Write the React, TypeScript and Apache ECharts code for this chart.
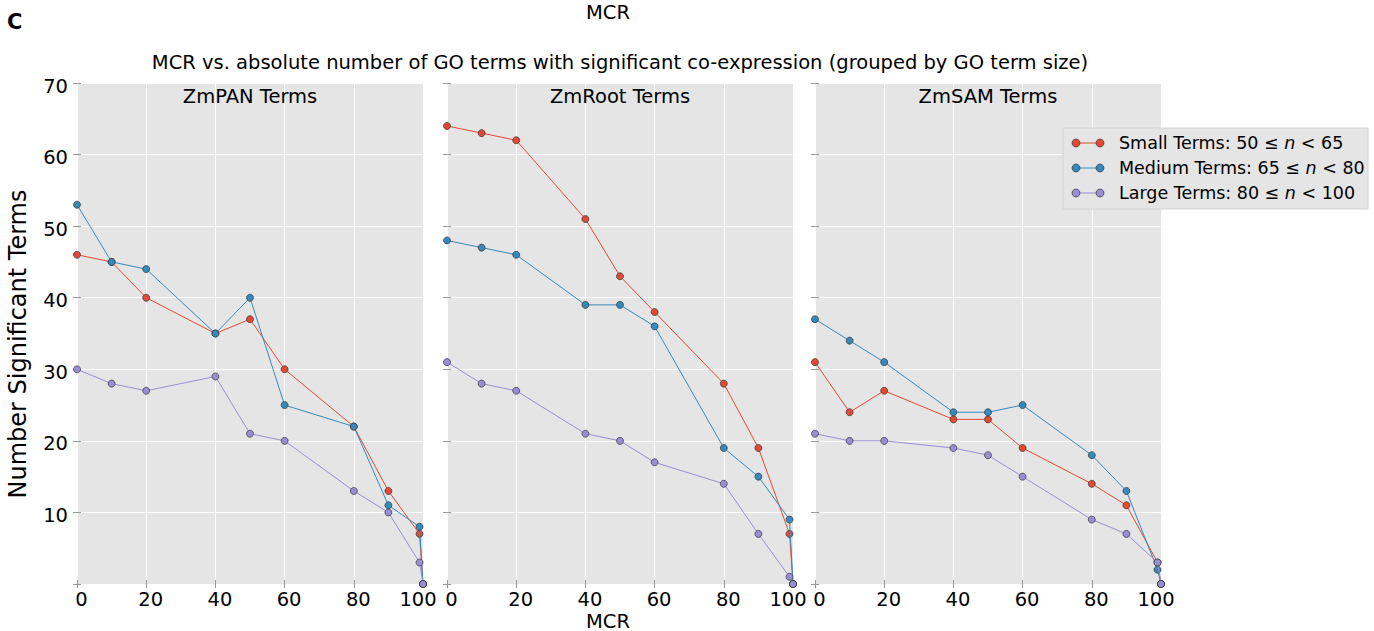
import React, { useEffect, useRef } from "react";
import * as echarts from "echarts";

// MCR thresholds shared by every panel
const mcr = [0, 10, 20, 40, 50, 60, 80, 90, 99, 100];

const panels = ["ZmPAN Terms", "ZmRoot Terms", "ZmSAM Terms"];

// Number of significant GO terms per panel, by term size group
const panSmall = [46, 45, 40, 35, 37, 30, 22, 13, 7, 0];
const panMedium = [53, 45, 44, 35, 40, 25, 22, 11, 8, 0];
const panLarge = [30, 28, 27, 29, 21, 20, 13, 10, 3, 0];

const rootSmall = [64, 63, 62, 51, 43, 38, 28, 19, 7, 0];
const rootMedium = [48, 47, 46, 39, 39, 36, 19, 15, 9, 0];
const rootLarge = [31, 28, 27, 21, 20, 17, 14, 7, 1, 0];

const samSmall = [31, 24, 27, 23, 23, 19, 14, 11, 3, 0];
const samMedium = [37, 34, 31, 24, 24, 25, 18, 13, 2, 0];
const samLarge = [21, 20, 20, 19, 18, 15, 9, 7, 3, 0];

const groupNames = [
  ["Small Terms: 50 ≤ ", "n", " < 65"],
  ["Medium Terms: 65 ≤ ", "n", " < 80"],
  ["Large Terms: 80 ≤ ", "n", " < 100"],
];
const colors = ["#E24A33", "#348ABD", "#988ED5"];

const yTicks = [0, 10, 20, 30, 40, 50, 60, 70];
const xTicks = [0, 20, 40, 60, 80, 100];

const panelData = [
  [panSmall, panMedium, panLarge],
  [rootSmall, rootMedium, rootLarge],
  [samSmall, samMedium, samLarge],
];

const FONT = "DejaVu Sans";
const FS = 19.5;

export default function App() {
  const ref = useRef<HTMLDivElement>(null);

  useEffect(() => {
    if (!ref.current) return;
    const chart = echarts.init(ref.current, null, { renderer: "svg" });

    const lefts = [77, 447, 815];
    const gridW = 346;
    const gridTop = 83;
    const gridH = 501;

    const grids = lefts.map((l) => ({
      left: l, top: gridTop, width: gridW, height: gridH,
      show: true, backgroundColor: "#E5E5E5", borderWidth: 0,
      containLabel: false, outerBoundsMode: "none",
    }));

    const lbl = { fontSize: FS, color: "#000", fontFamily: FONT };
    const tickStyle = { show: true, length: 4, lineStyle: { color: "#999", width: 1 } };
    const xAxes: any[] = [];
    const yAxes: any[] = [];
    lefts.forEach((_, i) => {
      xAxes.push({
        type: "value", gridIndex: i, min: xTicks[0], max: xTicks[xTicks.length - 1], interval: 20,
        position: "bottom",
        axisLine: { show: false }, axisTick: tickStyle,
        splitLine: { show: true, lineStyle: { color: "#fff", width: 1 } },
        axisLabel: {
          ...lbl, margin: 5,
          formatter: (v: number) => (v === 100 ? `{r|${v}}` : `{l|${v}}`),
          rich: {
            l: { ...lbl, padding: [0, 0, 0, 9] },
            r: { ...lbl, padding: [0, 10, 0, 0] },
          },
        },
      });
      xAxes.push({
        type: "value", gridIndex: i, min: 0, max: 100, interval: 20, position: "top",
        axisLine: { show: false }, axisTick: tickStyle, splitLine: { show: false },
        axisLabel: { show: false },
      });
      yAxes.push({
        type: "value", gridIndex: i, min: yTicks[0], max: yTicks[yTicks.length - 1], interval: 10,
        position: "left",
        axisLine: { show: false }, axisTick: tickStyle,
        splitLine: { show: true, lineStyle: { color: "#fff", width: 1 } },
        axisLabel: {
          show: i === 0, ...lbl, margin: 9,
          formatter: (v: number) => (v === 0 ? "" : `{d|${v}}`),
          rich: { d: { ...lbl, padding: [6, 0, 0, 0] } },
        },
      });
      yAxes.push({
        type: "value", gridIndex: i, min: 0, max: 70, interval: 10, position: "right",
        axisLine: { show: false }, axisTick: tickStyle, splitLine: { show: false },
        axisLabel: { show: false },
      });
    });

    const series: any[] = [];
    panelData.forEach((groups, p) => {
      groups.forEach((vals, g) => {
        series.push({
          type: "line",
          name: groupNames[g].join(""),
          xAxisIndex: p * 2, yAxisIndex: p * 2,
          data: mcr.map((x, k) => [x, vals[k]]),
          symbol: "circle", symbolSize: 7,
          lineStyle: { color: colors[g], width: 1 },
          itemStyle: { color: colors[g], borderColor: "#333", borderWidth: 0.7 },
          clip: true,
          z: 2 + g,
        });
      });
    });

    const txt = (text: string, x: number, y: number, size: number, extra: any = {}) => ({
      type: "text", x, y, z: 20,
      style: { text, fontSize: size, fontFamily: FONT, fill: "#000", align: "center", verticalAlign: "middle", ...extra },
    });

    const texts: any[] = [
      txt("C", 7, 22, 21, { fontWeight: "bold", align: "left" }),
      txt("MCR", 608, 12, FS),
      txt("MCR vs. absolute number of GO terms with significant co-expression (grouped by GO term size)", 620, 62, FS),
      txt("MCR", 608, 621, FS),
      { ...txt("Number Significant Terms", 0, 0, 24), x: 18, y: 344, rotation: Math.PI / 2 },
    ];
    panels.forEach((t, i) => texts.push(txt(t, lefts[i] + gridW / 2, 96, FS)));

    // Legend box with line-and-marker keys
    const legendX = 1063, legendY = 128, rowH = 25;
    const legendEls: any[] = [
      { type: "rect", shape: { x: legendX, y: legendY, width: 305, height: 81 }, style: { fill: "#E5E5E5", stroke: "#d4d4d4", lineWidth: 1 }, z: 10 },
    ];
    groupNames.forEach((parts, g) => {
      const cy = legendY + 15 + g * rowH;
      legendEls.push({ type: "line", shape: { x1: 1076, y1: cy, x2: 1100, y2: cy }, style: { stroke: colors[g], lineWidth: 1 }, z: 11 });
      [1076, 1100].forEach((cx) => {
        legendEls.push({ type: "circle", shape: { cx, cy, r: 4 }, style: { fill: colors[g], stroke: "#333", lineWidth: 0.7 }, z: 12 });
      });
      legendEls.push({
        type: "text", x: 1119, y: cy, z: 12,
        style: {
          text: `{a|${parts[0]}}{i|${parts[1]}}{a|${parts[2]}}`,
          verticalAlign: "middle",
          rich: {
            a: { fontSize: 17.5, fill: "#000", fontFamily: FONT },
            i: { fontSize: 17.5, fill: "#000", fontFamily: FONT, fontStyle: "italic" },
          },
        },
      });
    });

    chart.setOption({
      animation: false,
      backgroundColor: "#fff",
      grid: grids,
      xAxis: xAxes,
      yAxis: yAxes,
      series,
      graphic: [...texts, ...legendEls],
    });

    return () => chart.dispose();
  }, []);

  return <div ref={ref} style={{ position: "fixed", left: 0, top: 0, width: 1374, height: 631 }} />;
}
